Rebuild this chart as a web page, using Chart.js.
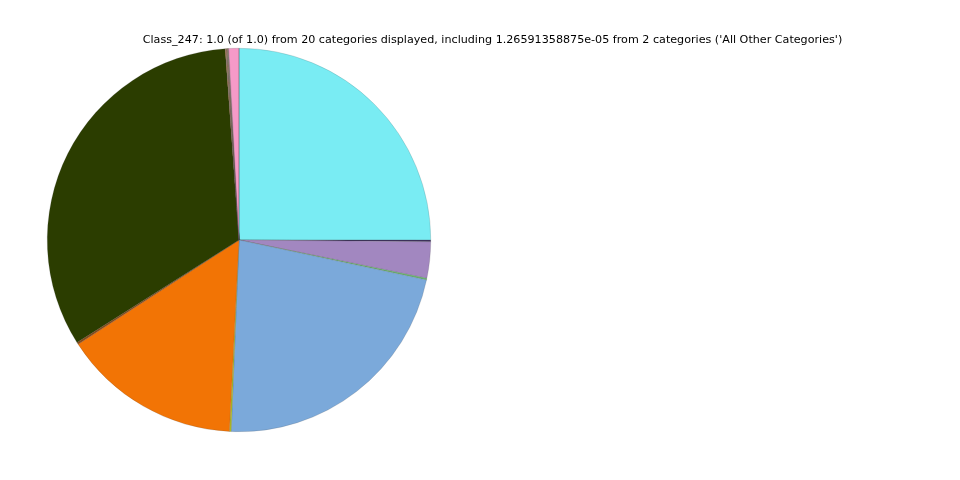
<!DOCTYPE html>
<html>
<head>
<meta charset="utf-8">
<script src="https://cdn.jsdelivr.net/npm/chart.js@4"></script>
<style>
  html, body { margin: 0; padding: 0; background: #ffffff; }
  #wrap { width: 960px; height: 480px; position: relative; }
</style>
</head>
<body>
<div id="wrap"><canvas id="myChart" width="960" height="480"></canvas></div>
<script>
const titulo = "Class_247: 1.0 (of 1.0) from 20 categories displayed, including 1.26591358875e-05 from 2 categories ('All Other Categories')";

// categorias en orden horario desde las 12
const categorias = [
  "Cat_A", "Cat_B", "Cat_C", "Cat_D", "Cat_E", "Cat_F", "Cat_G", "Cat_H", "Cat_I",
  "Cat_J", "Cat_K", "Cat_L", "Cat_M", "Cat_N", "Cat_O", "Cat_P", "Cat_Q", "Cat_R",
  "Cat_S", "All Other Categories"
];
const valores = [
  0.2500, 0.00139, 0.03056, 0.00139, 0.22306, 0.00139, 0.15056, 0.00167, 0.32820,
  0.00040, 0.00035, 0.00030, 0.00035, 0.00030, 0.00035, 0.00030, 0.00035, 0.00030,
  0.00846, 0.0000127
];
const colores = [
  "#79ecf3", "#3b2f5c", "#a287c0", "#6cb873", "#7ba9da", "#b5c21e", "#f27405", "#8a4a16", "#2b3d00",
  "#f08a3a", "#9a9a9a", "#e8a070", "#c05a30", "#7f7f7f", "#d0b060", "#b07050", "#a0a0a0", "#e07aa0",
  "#f59ac8", "#bcbd22"
];

const canvas = document.getElementById("myChart");

// titulo dibujado a mano para dejarlo centrado en la figura, no en el pie
const tituloPlugin = {
  id: "tituloFigura",
  afterDraw(chart) {
    const ctx = chart.ctx;
    ctx.save();
    ctx.font = "11.15px 'DejaVu Sans'";
    ctx.fillStyle = "#000000";
    ctx.textAlign = "center";
    ctx.textBaseline = "middle";
    ctx.fillText(titulo, 492.5, 40);
    ctx.restore();
  },
};

new Chart(canvas, {
  type: "pie",
  data: {
    labels: categorias,
    datasets: [
      {
        data: valores,
        backgroundColor: colores,
        borderColor: "rgba(70,70,70,0.35)",
        borderWidth: 0.5,
      },
    ],
  },
  options: {
    responsive: false,
    animation: false,
    layout: {
      padding: { left: 47, right: 529, top: 48, bottom: 48 },
    },
    plugins: {
      legend: { display: false },
      title: { display: false },
      tooltip: { enabled: false },
    },
  },
  plugins: [tituloPlugin],
});
</script>
</body>
</html>
